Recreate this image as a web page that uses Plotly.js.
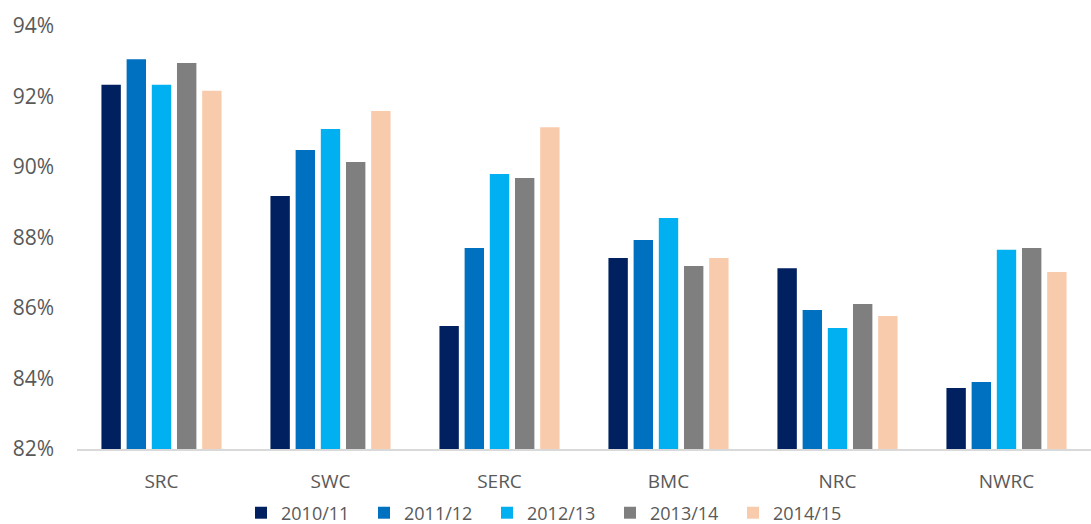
<!DOCTYPE html>
<html>
<head>
<meta charset="utf-8">
<script src="https://cdn.plot.ly/plotly-3.0.1.min.js"></script>
<style>html,body{margin:0;padding:0;background:#fff;}#chart{width:1091px;height:524px;}</style>
</head>
<body>
<div id="chart"></div>
<script>
const categories = ["SRC", "SWC", "SERC", "BMC", "NRC", "NWRC"];
const seriesNames = ["2010/11", "2011/12", "2012/13", "2013/14", "2014/15"];
const s2010 = [92.33, 89.18, 85.49, 87.42, 87.13, 83.73];
const s2011 = [93.06, 90.48, 87.70, 87.93, 85.94, 83.90];
const s2012 = [92.33, 91.08, 89.80, 88.55, 85.43, 87.65];
const s2013 = [92.95, 90.14, 89.69, 87.19, 86.11, 87.70];
const s2014 = [92.16, 91.59, 91.13, 87.42, 85.77, 87.02];
const yTicks = [82, 84, 86, 88, 90, 92, 94];

const colors = ["#002060", "#0070C0", "#00B0F0", "#7F7F7F", "#F8CBAD"];
const allSeries = [s2010, s2011, s2012, s2013, s2014];

const traces = allSeries.map((vals, i) => ({
  type: "bar",
  name: seriesNames[i],
  x: categories,
  y: vals.map(v => v - 82),
  base: 82,
  marker: {color: colors[i]},
  hoverinfo: "x+y+name"
}));

const layout = {
  width: 1091,
  height: 524,
  margin: {l: 77, r: 0, t: 26, b: 75, autoexpand: false},
  paper_bgcolor: "#fff",
  plot_bgcolor: "#fff",
  font: {family: "Open Sans, sans-serif", color: "#595959"},
  barmode: "group",
  bargap: 0.255,
  bargroupgap: 0.23,
  xaxis: {
    showline: true,
    linecolor: "#D9D9D9",
    linewidth: 2,
    ticks: "",
    showgrid: false,
    tickfont: {size: 19, color: "#595959"},
    ticklabelstandoff: 14
  },
  yaxis: {
    range: [82, 94],
    tickvals: yTicks,
    ticktext: yTicks.map(v => v + "%"),
    showgrid: false,
    zeroline: false,
    showline: false,
    ticks: "",
    tickfont: {size: 21, color: "#595959"},
    ticklabelstandoff: 22
  },
  showlegend: true,
  legend: {
    orientation: "h",
    x: 0.465,
    xanchor: "center",
    yref: "container",
    y: 0.021,
    yanchor: "middle",
    font: {size: 18, color: "#595959"},
    itemwidth: 30,
    entrywidth: 78,
    traceorder: "normal"
  }
};

Plotly.newPlot("chart", traces, layout, {displayModeBar: false, staticPlot: true});
</script>
</body>
</html>
